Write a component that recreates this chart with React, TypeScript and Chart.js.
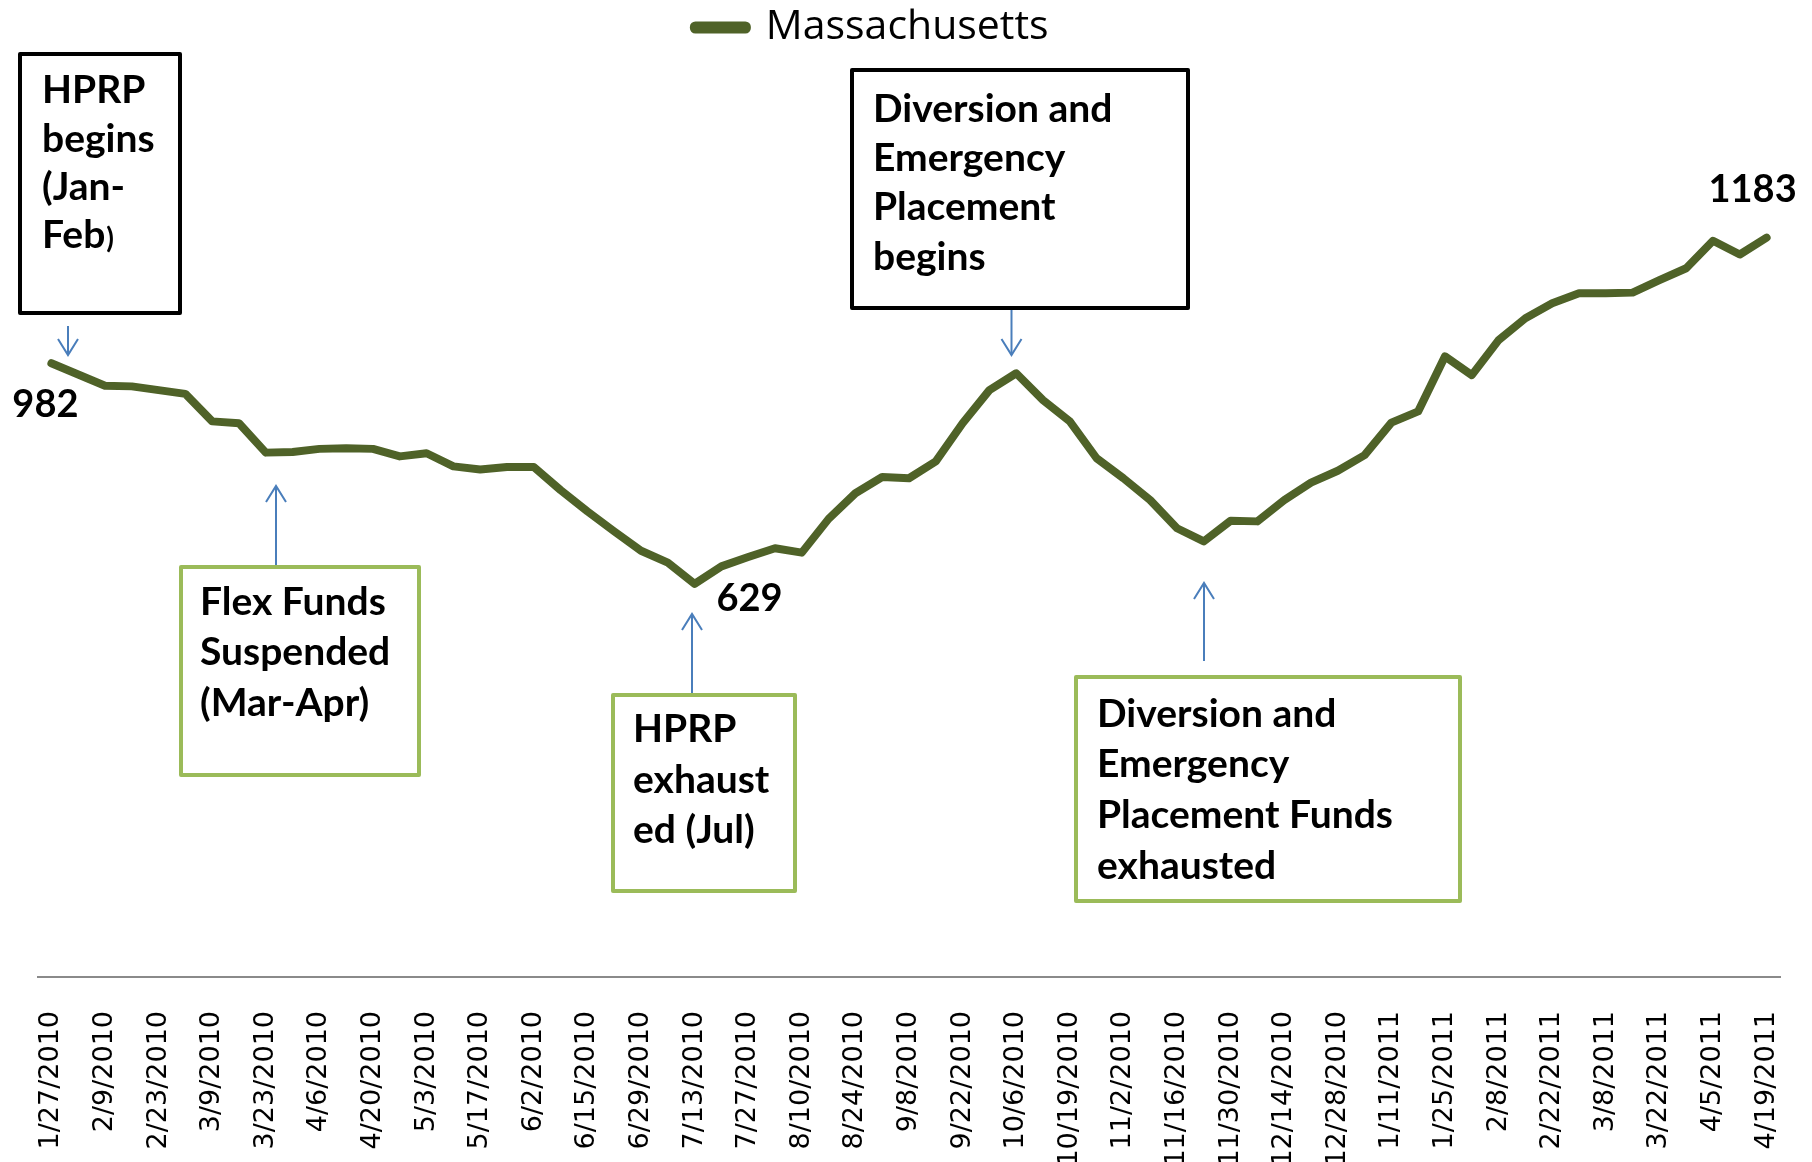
import React, { useEffect, useRef } from 'react';
import { Chart, registerables } from 'chart.js';

Chart.register(...registerables);

// ---------- data ----------
const categories = [
  '1/27/2010', '2/2/2010', '2/9/2010', '2/16/2010', '2/23/2010', '3/2/2010', '3/9/2010', '3/16/2010',
  '3/23/2010', '3/30/2010', '4/6/2010', '4/13/2010', '4/20/2010', '4/27/2010', '5/3/2010', '5/10/2010',
  '5/17/2010', '5/25/2010', '6/2/2010', '6/8/2010', '6/15/2010', '6/22/2010', '6/29/2010', '7/6/2010',
  '7/13/2010', '7/20/2010', '7/27/2010', '8/3/2010', '8/10/2010', '8/17/2010', '8/24/2010', '8/31/2010',
  '9/8/2010', '9/15/2010', '9/22/2010', '9/29/2010', '10/6/2010', '10/13/2010', '10/19/2010', '10/26/2010',
  '11/2/2010', '11/9/2010', '11/16/2010', '11/23/2010', '11/30/2010', '12/7/2010', '12/14/2010', '12/21/2010',
  '12/28/2010', '1/4/2011', '1/11/2011', '1/18/2011', '1/25/2011', '2/1/2011', '2/8/2011', '2/15/2011',
  '2/22/2011', '3/1/2011', '3/8/2011', '3/15/2011', '3/22/2011', '3/29/2011', '4/5/2011', '4/12/2011',
  '4/19/2011',
];

const massachusetts = [
  982, 964, 946, 945, 939, 933, 889, 886,
  839, 840, 845, 846, 845, 833, 838, 817,
  812, 816, 816, 779, 745, 713, 682, 663,
  629, 657, 672, 686, 679, 733, 774, 800,
  798, 825, 886, 939, 966, 923, 889, 830,
  798, 763, 718, 697, 730, 729, 763, 791,
  810, 835, 887, 905, 993, 963, 1019, 1054,
  1078, 1094, 1094, 1095, 1115, 1134, 1178, 1156,
  1183,
];

const seriesName = 'Massachusetts';
const labelEvery = 2;

// value labels shown on the line: index in the series
const valueLabelIndexes = [0, 24, 64];

// ---------- styles ----------
const LINE_COLOR = '#4F6228';
const ARROW_COLOR = '#4A7EBB';
const GREEN = '#9BBB59';
const BOLD_FONT = 'bold 39px Lato, "Open Sans", sans-serif';
const SMALL_BOLD_FONT = 'bold 28px Lato, "Open Sans", sans-serif';
const LABEL_FONT = 'bold 38px Lato, "Open Sans", sans-serif';

// offsets of value labels from their points (text centre x, baseline y)
const valueLabelOffsets: Record<number, [number, number]> = {
  0: [-6, 54],
  24: [55, 27],
  64: [-14, -36],
};

type Line = string | [string, string];
type Note = {
  lines: Line[];
  box: [number, number, number, number];
  color: string;
  tx: number;
  baselines: number[];
  arrow: { x: number; from: number; to: number };
};

const notes: Note[] = [
  {
    lines: ['HPRP', 'begins', '(Jan-', ['Feb', ')']],
    box: [18, 52, 164, 263], color: '#000000', tx: 42,
    baselines: [103, 152, 200, 248],
    arrow: { x: 68, from: 326, to: 355 },
  },
  {
    lines: ['Flex Funds', 'Suspended', '(Mar-Apr)'],
    box: [179, 565, 242, 212], color: GREEN, tx: 200,
    baselines: [615, 665, 716],
    arrow: { x: 276, from: 565, to: 486 },
  },
  {
    lines: ['HPRP', 'exhaust', 'ed (Jul)'],
    box: [611, 693, 186, 200], color: GREEN, tx: 633,
    baselines: [742, 793, 843],
    arrow: { x: 692, from: 693, to: 614 },
  },
  {
    lines: ['Diversion and', 'Emergency', 'Placement', 'begins'],
    box: [850, 68, 340, 242], color: '#000000', tx: 873,
    baselines: [122, 171, 220, 270],
    arrow: { x: 1011.5, from: 310, to: 355 },
  },
  {
    lines: ['Diversion and', 'Emergency', 'Placement Funds', 'exhausted'],
    box: [1074, 675, 388, 228], color: GREEN, tx: 1097,
    baselines: [727, 777, 828, 879],
    arrow: { x: 1204, from: 661, to: 583 },
  },
];

const annotationPlugin = {
  id: 'noteAnnotations',
  afterLayout(chart: any) {
    const lg = chart.legend;
    if (lg) {
      lg.left -= 37;
      lg.right -= 37;
      lg.top -= 44;
      lg.bottom -= 44;
    }
  },
  afterDraw(chart: any) {
    const ctx: CanvasRenderingContext2D = chart.ctx;
    ctx.save();
    // boxes
    for (const n of notes) {
      const [x, y, w, h] = n.box;
      ctx.fillStyle = '#ffffff';
      ctx.fillRect(x, y, w, h);
      ctx.lineWidth = 4;
      ctx.lineJoin = 'round';
      ctx.strokeStyle = n.color;
      ctx.strokeRect(x + 2, y + 2, w - 4, h - 4);
      ctx.fillStyle = '#000000';
      ctx.textAlign = 'left';
      ctx.textBaseline = 'alphabetic';
      n.lines.forEach((ln, i) => {
        const by = n.baselines[i];
        if (typeof ln === 'string') {
          ctx.font = BOLD_FONT;
          ctx.fillText(ln, n.tx, by);
        } else {
          ctx.font = BOLD_FONT;
          ctx.fillText(ln[0], n.tx, by);
          const wMain = ctx.measureText(ln[0]).width;
          ctx.font = SMALL_BOLD_FONT;
          ctx.fillText(ln[1], n.tx + wMain + 1, by);
        }
      });
      // arrow
      const a = n.arrow;
      const d = Math.sign(a.to - a.from);
      ctx.strokeStyle = ARROW_COLOR;
      ctx.lineWidth = 2;
      ctx.lineJoin = 'miter';
      ctx.beginPath();
      ctx.moveTo(a.x, a.from);
      ctx.lineTo(a.x, a.to);
      ctx.stroke();
      ctx.beginPath();
      ctx.moveTo(a.x - 10, a.to - d * 16);
      ctx.lineTo(a.x, a.to);
      ctx.lineTo(a.x + 10, a.to - d * 16);
      ctx.stroke();
    }
    // value labels
    const meta = chart.getDatasetMeta(0);
    ctx.font = LABEL_FONT;
    ctx.fillStyle = '#000000';
    ctx.textAlign = 'center';
    ctx.textBaseline = 'alphabetic';
    for (const idx of valueLabelIndexes) {
      const pt = meta.data[idx];
      if (!pt) continue;
      const [dx, dy] = valueLabelOffsets[idx];
      ctx.fillText(String(massachusetts[idx]), pt.x + dx, pt.y + dy);
    }
    ctx.restore();
  },
};

export default function App() {
  const canvasRef = useRef<HTMLCanvasElement | null>(null);

  useEffect(() => {
    const canvas = canvasRef.current;
    if (!canvas) return;
    const chart = new Chart(canvas, {
      type: 'line',
      data: {
        labels: categories,
        datasets: [
          {
            label: seriesName,
            data: massachusetts,
            borderColor: LINE_COLOR,
            backgroundColor: LINE_COLOR,
            borderWidth: 8,
            borderJoinStyle: 'round',
            borderCapStyle: 'round',
            pointRadius: 0,
            pointHoverRadius: 0,
            tension: 0,
            fill: false,
          },
        ],
      },
      options: {
        responsive: false,
        animation: false,
        devicePixelRatio: 1,
        layout: { padding: { top: 44, left: 38, right: 32, bottom: 0 } },
        plugins: {
          tooltip: { enabled: false },
          legend: {
            display: true,
            position: 'top',
            align: 'center',
            labels: {
              color: '#000000',
              font: { family: '"Open Sans", sans-serif', size: 41 },
              boxWidth: 50,
              boxHeight: 1,
              padding: 7,
              generateLabels: (c: any) =>
                (Chart.defaults.plugins.legend.labels as any).generateLabels(c).map((l: any) => ({
                  ...l,
                  lineWidth: 11,
                  lineJoin: 'round',
                  lineCap: 'round',
                  fillStyle: LINE_COLOR,
                  strokeStyle: LINE_COLOR,
                })),
            },
          },
        },
        scales: {
          x: {
            type: 'category',
            offset: true,
            grid: { display: false, drawTicks: false },
            border: { display: true, color: '#8a8a8a', width: 2 },
            ticks: {
              autoSkip: false,
              maxRotation: 90,
              minRotation: 90,
              padding: 34,
              color: '#000000',
              font: { family: '"DejaVu Sans", Verdana, sans-serif', size: 27 },
              callback: (_v: any, i: number) => (i % labelEvery === 0 ? categories[i] : ''),
            },
            afterFit: (scale: any) => {
              scale.height = 185;
              scale.paddingLeft = 0;
              scale.paddingRight = 0;
            },
          },
          y: {
            display: false,
            min: 0,
            max: 1400,
            grid: { display: false },
          },
        },
      },
      plugins: [annotationPlugin],
    } as any);
    return () => chart.destroy();
  }, []);

  return (
    <div style={{ position: 'absolute', left: 0, top: 0, width: 1812, height: 1162, background: '#ffffff' }}>
      <canvas ref={canvasRef} width={1812} height={1162} style={{ display: 'block' }} />
    </div>
  );
}
